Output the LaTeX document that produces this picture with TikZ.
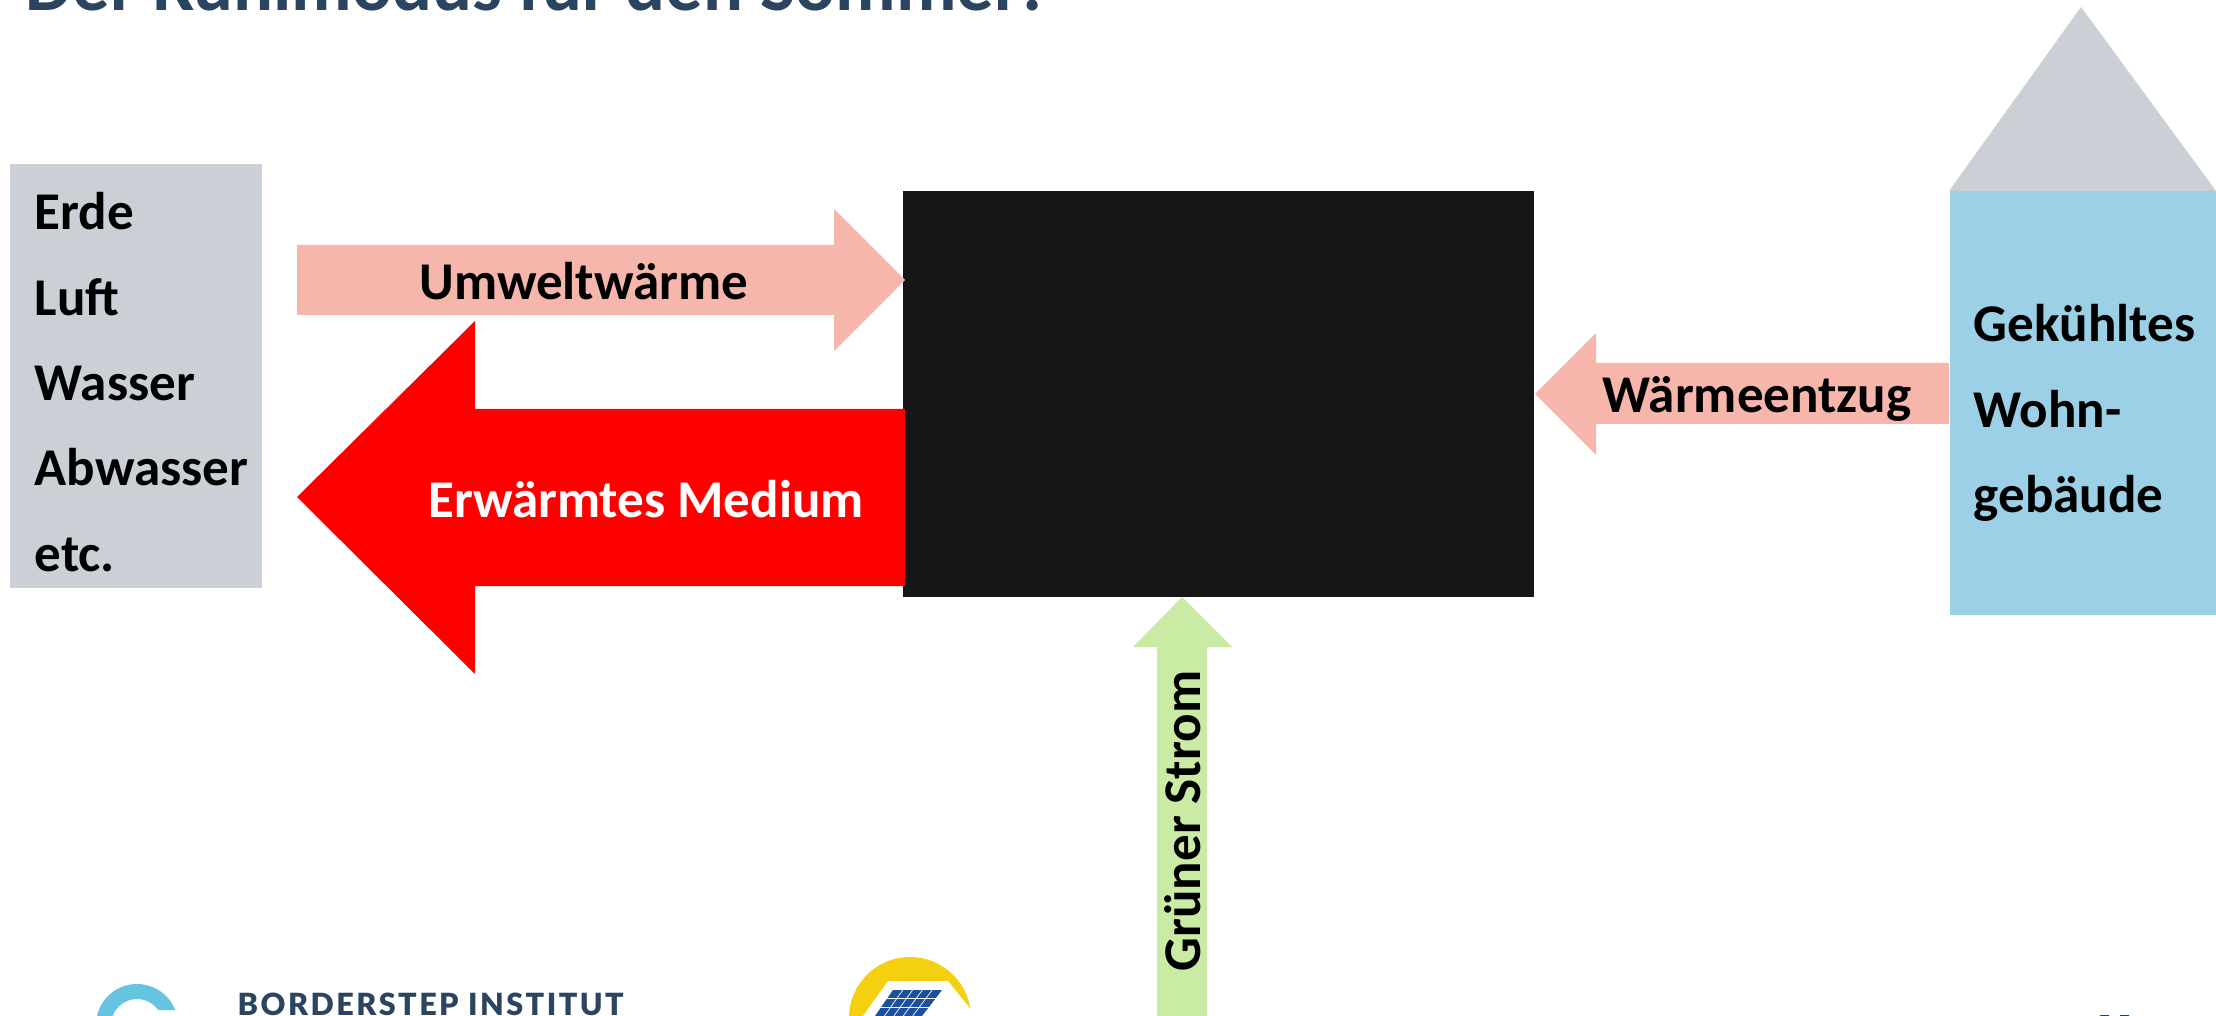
\documentclass[tikz,border=0pt]{standalone}
\usepackage{fontspec}
\setmainfont{Carlito}
\newfontfamily\logofont[LetterSpace=8]{Lato Black}
\usepackage{tikz}
\definecolor{kuehlgrey}{HTML}{CBCFD6}
\definecolor{kuehlpink}{HTML}{F6B6AC}
\definecolor{kuehlblue}{HTML}{9BD0E6}
\definecolor{kuehlgreen}{HTML}{C9EBA3}
\definecolor{kuehlblack}{HTML}{161616}
\definecolor{kuehlnavy}{HTML}{2B4560}
\definecolor{kuehlsky}{HTML}{66C4E0}
\definecolor{kuehlyellow}{HTML}{F5D010}
\definecolor{kuehlpanel}{HTML}{1B4FA0}

\begin{document}
\begin{tikzpicture}[
  x=0.1mm, y=-0.1mm,
  label/.style={font=\fontsize{15.1}{24.3}\selectfont\bfseries, inner sep=0pt},
  stack/.style={label, align=left, anchor=west}
]
\useasboundingbox (0,0) rectangle (2216,1016);
\fill[white] (0,0) rectangle (2216,1016);

\node[anchor=base west, inner sep=0pt, text=kuehlnavy, font=\fontsize{21.2}{26}\selectfont\bfseries] (title) at (25,11) {Der Kühlmodus für den Sommer!};

\fill[kuehlgrey] (10,164) rectangle (262,588);
\node[stack] (medien) at (34,382) {Erde\\Luft\\Wasser\\Abwasser\\etc.};

\fill[kuehlblack] (903,191) rectangle (1534,597);

\fill[kuehlgrey] (1949,191) -- (2081,7) -- (2216,191) -- cycle;
\fill[kuehlblue] (1950,191) rectangle (2216,615);
\node[stack] (haus) at (1973,413) {Gekühltes\\Wohn-\\gebäude};

\fill[kuehlpink] (297,245) -- (834,245) -- (834,209) -- (905,280) -- (834,351) -- (834,315) -- (297,315) -- cycle;
\node[label] (umwelt) at (584,281) {Umweltwärme};

\fill[red] (905,409) -- (475,409) -- (475,321) -- (297,497) -- (475,674) -- (475,586) -- (905,586) -- cycle;
\node[label, text=white] (medium) at (646,499) {Erwärmtes Medium};

\fill[kuehlpink] (1949,363) -- (1596,363) -- (1596,333) -- (1535,394) -- (1596,455) -- (1596,424) -- (1949,424) -- cycle;
\node[label] (entzug) at (1757,399) {Wärmeentzug};

\fill[kuehlgreen] (1157,1016) -- (1157,647) -- (1133,647) -- (1182,597) -- (1232,647) -- (1207,647) -- (1207,1016) -- cycle;
\node[label, rotate=90] (strom) at (1183,821) {Grüner Strom};

% logos at the lower edge
\begin{scope}
  \clip (90,980) -- (180,980) -- (180,1010) -- (137,1010) -- (137,1016) -- (90,1016) -- cycle;
  \fill[kuehlsky, even odd rule] (137,1025) circle[radius=41] (137,1025) circle[radius=26];
\end{scope}
\node[anchor=base west, inner sep=0pt, text=kuehlnavy, font=\fontsize{8.7}{10}\logofont] (borderstep) at (237,1015) {BORDERSTEP INSTITUT};

\fill[kuehlyellow] (910,1018) circle[radius=61];
\fill[white] (888,981) -- (948,981) -- (968,1006) -- (975,1016) -- (863,1016) -- cycle;
\fill[kuehlpanel] (893,990) -- (942,990) -- (922,1016) -- (875,1016) -- cycle;
\foreach \i in {1,...,4}
  \draw[white, line width=0.2pt] ({893+\i*9.8},990) -- ({875+\i*9.4},1016);
\draw[white, line width=0.2pt] (887,998) -- (936,998) (881,1007) -- (929,1007);

% tops of the page number
\fill[kuehlnavy] (2100,1015) rectangle (2109,1016) (2120,1015) rectangle (2129,1016);
\end{tikzpicture}
\end{document}
